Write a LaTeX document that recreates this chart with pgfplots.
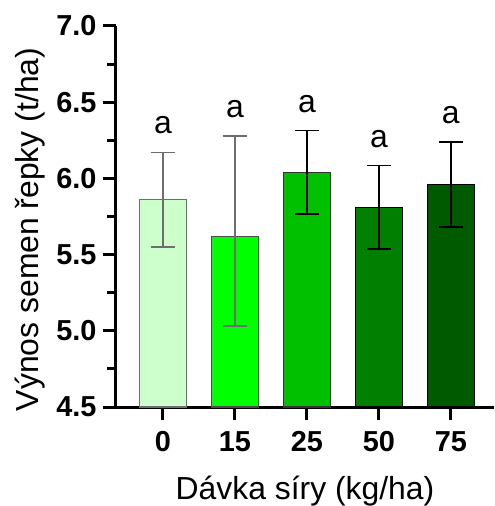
\documentclass[border=0pt]{standalone}
\usepackage{fontspec}
\setmainfont{Liberation Sans}
\usepackage{pgfplots}
\pgfplotsset{compat=1.18}

\definecolor{dose0}{HTML}{CCFFCC}
\definecolor{dose15}{HTML}{00FF00}
\definecolor{dose25}{HTML}{00C000}
\definecolor{dose50}{HTML}{007F00}
\definecolor{dose75}{HTML}{005A00}
\definecolor{errgray}{HTML}{6E6E6E}

\pgfplotsset{
  barstyle/.style={
    ybar, bar width=47bp, bar shift=0pt, line width=1.2bp,
    error bars/.cd, y dir=both, y explicit,
    error bar style={line width=1.6bp, #1},
    error mark options={rotate=90, mark size=12bp, line width=1.6bp, #1},
    /pgfplots/.cd,
  },
}

\begin{document}
\begin{tikzpicture}
\begin{axis}[
  name=ax,
  scale only axis, width=378bp, height=381bp,
  xmin=-0.653, xmax=4.6, ymin=4.5, ymax=7.0,
  ybar,
  axis x line*=bottom, axis y line*=left,
  axis line style={line width=3bp, -, black},
  ytick={4.5,5.0,5.5,6.0,6.5,7.0},
  minor ytick={4.75,5.25,5.75,6.25,6.75},
  xtick={0,1,2,3,4}, xticklabels={0,15,25,50,75},
  tick align=outside,
  major tick length=13bp, minor tick length=9bp,
  tick style={line width=3bp, black},
  yticklabel style={/pgf/number format/.cd, fixed, fixed zerofill, precision=1, assume math mode=true, /pgfplots/.cd, xshift=-3bp},
  xticklabel style={yshift=-8bp},
  tick label style={font=\fontsize{29}{32}\selectfont\bfseries},
  label style={font=\fontsize{32}{35}\selectfont},
  xlabel={Dávka síry (kg/ha)},
  ylabel={Výnos semen řepky (t/ha)},
  xlabel style={at={(axis description cs:0.5,-0.2415)}, anchor=base},
  ylabel style={at={(axis description cs:-0.2063,0.466)}, anchor=base},
]
\addplot[barstyle=errgray, fill=dose0, draw=errgray]
  coordinates {(0,5.86) +- (0,0.31)};
\addplot[barstyle=errgray, fill=dose15, draw=black!70]
  coordinates {(1,5.62) += (0,0.66) -= (0,0.59)};
\addplot[barstyle=black, fill=dose25, draw=black!80]
  coordinates {(2,6.04) +- (0,0.275)};
\addplot[barstyle=black, fill=dose50, draw=black]
  coordinates {(3,5.81) +- (0,0.275)};
\addplot[barstyle=black, fill=dose75, draw=black]
  coordinates {(4,5.96) +- (0,0.278)};

% significance letters above the error bars
\node[font=\fontsize{32}{35}\selectfont] at (axis cs:0,6.35) {a};
\node[font=\fontsize{32}{35}\selectfont] at (axis cs:1,6.455) {a};
\node[font=\fontsize{32}{35}\selectfont] at (axis cs:2,6.49) {a};
\node[font=\fontsize{32}{35}\selectfont] at (axis cs:3,6.26) {a};
\node[font=\fontsize{32}{35}\selectfont] at (axis cs:4,6.415) {a};
\end{axis}
\pgfresetboundingbox
\useasboundingbox ([shift={(-116bp,-99bp)}]ax.south west) rectangle ([shift={(1bp,26bp)}]ax.north east);
\end{tikzpicture}
\end{document}
